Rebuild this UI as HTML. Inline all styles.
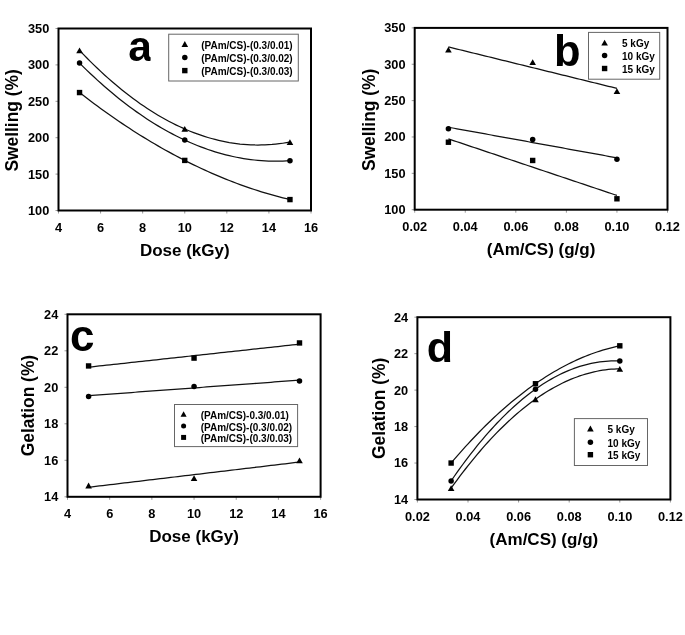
<!DOCTYPE html>
<html><head><meta charset="utf-8"><style>
html,body{margin:0;padding:0;background:#fff;}
svg{display:block;filter:grayscale(1);}
text{font-family:"Liberation Sans", sans-serif;font-weight:bold;fill:#000;}
</style></head><body>
<svg width="685" height="635" viewBox="0 0 685 635">
<line x1="58.5" y1="210.5" x2="58.5" y2="213.5" stroke="#999" stroke-width="1"/>
<text transform="translate(58.5,231.5) scale(1.04,1)" font-size="12.3" text-anchor="middle">4</text>
<line x1="100.58" y1="210.5" x2="100.58" y2="213.5" stroke="#999" stroke-width="1"/>
<text transform="translate(100.58,231.5) scale(1.04,1)" font-size="12.3" text-anchor="middle">6</text>
<line x1="142.67" y1="210.5" x2="142.67" y2="213.5" stroke="#999" stroke-width="1"/>
<text transform="translate(142.67,231.5) scale(1.04,1)" font-size="12.3" text-anchor="middle">8</text>
<line x1="184.75" y1="210.5" x2="184.75" y2="213.5" stroke="#999" stroke-width="1"/>
<text transform="translate(184.75,231.5) scale(1.04,1)" font-size="12.3" text-anchor="middle">10</text>
<line x1="226.83" y1="210.5" x2="226.83" y2="213.5" stroke="#999" stroke-width="1"/>
<text transform="translate(226.83,231.5) scale(1.04,1)" font-size="12.3" text-anchor="middle">12</text>
<line x1="268.92" y1="210.5" x2="268.92" y2="213.5" stroke="#999" stroke-width="1"/>
<text transform="translate(268.92,231.5) scale(1.04,1)" font-size="12.3" text-anchor="middle">14</text>
<line x1="311" y1="210.5" x2="311" y2="213.5" stroke="#999" stroke-width="1"/>
<text transform="translate(311,231.5) scale(1.04,1)" font-size="12.3" text-anchor="middle">16</text>
<line x1="55.5" y1="210.5" x2="58.5" y2="210.5" stroke="#999" stroke-width="1"/>
<text transform="translate(49.3,214.93) scale(1.04,1)" font-size="12.3" text-anchor="end">100</text>
<line x1="55.5" y1="174.1" x2="58.5" y2="174.1" stroke="#999" stroke-width="1"/>
<text transform="translate(49.3,178.53) scale(1.04,1)" font-size="12.3" text-anchor="end">150</text>
<line x1="55.5" y1="137.7" x2="58.5" y2="137.7" stroke="#999" stroke-width="1"/>
<text transform="translate(49.3,142.13) scale(1.04,1)" font-size="12.3" text-anchor="end">200</text>
<line x1="55.5" y1="101.3" x2="58.5" y2="101.3" stroke="#999" stroke-width="1"/>
<text transform="translate(49.3,105.73) scale(1.04,1)" font-size="12.3" text-anchor="end">250</text>
<line x1="55.5" y1="64.9" x2="58.5" y2="64.9" stroke="#999" stroke-width="1"/>
<text transform="translate(49.3,69.33) scale(1.04,1)" font-size="12.3" text-anchor="end">300</text>
<line x1="55.5" y1="28.5" x2="58.5" y2="28.5" stroke="#999" stroke-width="1"/>
<text transform="translate(49.3,32.93) scale(1.04,1)" font-size="12.3" text-anchor="end">350</text>
<rect x="58.5" y="28.5" width="252.5" height="182" fill="none" stroke="#000" stroke-width="2"/>
<text x="184.75" y="255.9" font-size="17" text-anchor="middle" >Dose (kGy)</text>
<text transform="translate(17.9,120.4) rotate(-90) scale(1,1.07)" x="0" y="0" font-size="17.4" text-anchor="middle">Swelling (%)</text>
<clipPath id="clipa"><rect x="120" y="30" width="30.599999999999994" height="40"/></clipPath>
<text x="128.3" y="61.2" font-size="42.5" text-anchor="start" clip-path="url(#clipa)">a</text>
<path d="M79.54,50.34 L83.11,54.08 L86.67,57.74 L90.24,61.33 L93.81,64.84 L97.37,68.28 L100.94,71.64 L104.51,74.93 L108.07,78.14 L111.64,81.27 L115.21,84.33 L118.77,87.32 L122.34,90.23 L125.9,93.06 L129.47,95.82 L133.04,98.51 L136.6,101.11 L140.17,103.65 L143.74,106.11 L147.3,108.49 L150.87,110.8 L154.44,113.03 L158,115.19 L161.57,117.27 L165.13,119.27 L168.7,121.21 L172.27,123.06 L175.83,124.84 L179.4,126.55 L182.97,128.18 L186.53,129.73 L190.1,131.21 L193.67,132.62 L197.23,133.94 L200.8,135.2 L204.37,136.38 L207.93,137.48 L211.5,138.51 L215.06,139.46 L218.63,140.34 L222.2,141.14 L225.76,141.86 L229.33,142.52 L232.9,143.09 L236.46,143.59 L240.03,144.02 L243.6,144.37 L247.16,144.64 L250.73,144.84 L254.29,144.97 L257.86,145.02 L261.43,144.99 L264.99,144.89 L268.56,144.71 L272.13,144.46 L275.69,144.13 L279.26,143.73 L282.83,143.25 L286.39,142.7 L289.96,142.07" fill="none" stroke="#111" stroke-width="1.25"/>
<polygon points="76.24,53.24 82.84,53.24 79.54,47.44" fill="#000"/>
<polygon points="181.45,131.86 188.05,131.86 184.75,126.06" fill="#000"/>
<polygon points="286.66,144.97 293.26,144.97 289.96,139.17" fill="#000"/>
<path d="M79.54,63.08 L83.11,66.62 L86.67,70.09 L90.24,73.49 L93.81,76.83 L97.37,80.11 L100.94,83.32 L104.51,86.47 L108.07,89.55 L111.64,92.57 L115.21,95.52 L118.77,98.41 L122.34,101.23 L125.9,103.98 L129.47,106.68 L133.04,109.3 L136.6,111.87 L140.17,114.36 L143.74,116.8 L147.3,119.16 L150.87,121.47 L154.44,123.7 L158,125.88 L161.57,127.98 L165.13,130.03 L168.7,132 L172.27,133.92 L175.83,135.77 L179.4,137.55 L182.97,139.27 L186.53,140.92 L190.1,142.51 L193.67,144.03 L197.23,145.49 L200.8,146.89 L204.37,148.21 L207.93,149.48 L211.5,150.68 L215.06,151.81 L218.63,152.88 L222.2,153.88 L225.76,154.82 L229.33,155.7 L232.9,156.51 L236.46,157.25 L240.03,157.93 L243.6,158.55 L247.16,159.1 L250.73,159.58 L254.29,160 L257.86,160.36 L261.43,160.65 L264.99,160.87 L268.56,161.03 L272.13,161.13 L275.69,161.16 L279.26,161.12 L282.83,161.03 L286.39,160.86 L289.96,160.63" fill="none" stroke="#111" stroke-width="1.25"/>
<circle cx="79.54" cy="63.08" r="2.75" fill="#000"/>
<circle cx="184.75" cy="140.1" r="2.75" fill="#000"/>
<circle cx="289.96" cy="160.63" r="2.75" fill="#000"/>
<path d="M79.54,92.56 L83.11,95.33 L86.67,98.07 L90.24,100.77 L93.81,103.44 L97.37,106.08 L100.94,108.69 L104.51,111.26 L108.07,113.8 L111.64,116.3 L115.21,118.78 L118.77,121.22 L122.34,123.62 L125.9,126 L129.47,128.34 L133.04,130.65 L136.6,132.92 L140.17,135.17 L143.74,137.38 L147.3,139.55 L150.87,141.69 L154.44,143.81 L158,145.88 L161.57,147.93 L165.13,149.94 L168.7,151.92 L172.27,153.86 L175.83,155.78 L179.4,157.66 L182.97,159.5 L186.53,161.32 L190.1,163.1 L193.67,164.85 L197.23,166.56 L200.8,168.24 L204.37,169.89 L207.93,171.51 L211.5,173.09 L215.06,174.64 L218.63,176.16 L222.2,177.64 L225.76,179.09 L229.33,180.51 L232.9,181.9 L236.46,183.25 L240.03,184.57 L243.6,185.86 L247.16,187.11 L250.73,188.33 L254.29,189.52 L257.86,190.67 L261.43,191.79 L264.99,192.88 L268.56,193.94 L272.13,194.96 L275.69,195.95 L279.26,196.91 L282.83,197.83 L286.39,198.72 L289.96,199.58" fill="none" stroke="#111" stroke-width="1.25"/>
<rect x="76.84" y="89.86" width="5.4" height="5.4" fill="#000"/>
<rect x="182.05" y="157.71" width="5.4" height="5.4" fill="#000"/>
<rect x="287.26" y="196.88" width="5.4" height="5.4" fill="#000"/>
<rect x="168.7" y="34.2" width="129.6" height="46.8" fill="#fff" stroke="#666" stroke-width="1"/>
<polygon points="181.5,46.9 188.1,46.9 184.8,41.1" fill="#000"/>
<text transform="translate(201.2,48.8) scale(1,1.0)" font-size="10">(PAm/CS)-(0.3/0.01)</text>
<circle cx="184.8" cy="57.4" r="2.75" fill="#000"/>
<text transform="translate(201.2,62.2) scale(1,1.0)" font-size="10">(PAm/CS)-(0.3/0.02)</text>
<rect x="182.1" y="67.9" width="5.4" height="5.4" fill="#000"/>
<text transform="translate(201.2,75.4) scale(1,1.0)" font-size="10">(PAm/CS)-(0.3/0.03)</text>
<line x1="414.7" y1="209.7" x2="414.7" y2="212.7" stroke="#999" stroke-width="1"/>
<text transform="translate(414.7,230.7) scale(1.04,1)" font-size="12.3" text-anchor="middle">0.02</text>
<line x1="465.26" y1="209.7" x2="465.26" y2="212.7" stroke="#999" stroke-width="1"/>
<text transform="translate(465.26,230.7) scale(1.04,1)" font-size="12.3" text-anchor="middle">0.04</text>
<line x1="515.82" y1="209.7" x2="515.82" y2="212.7" stroke="#999" stroke-width="1"/>
<text transform="translate(515.82,230.7) scale(1.04,1)" font-size="12.3" text-anchor="middle">0.06</text>
<line x1="566.38" y1="209.7" x2="566.38" y2="212.7" stroke="#999" stroke-width="1"/>
<text transform="translate(566.38,230.7) scale(1.04,1)" font-size="12.3" text-anchor="middle">0.08</text>
<line x1="616.94" y1="209.7" x2="616.94" y2="212.7" stroke="#999" stroke-width="1"/>
<text transform="translate(616.94,230.7) scale(1.04,1)" font-size="12.3" text-anchor="middle">0.10</text>
<line x1="667.5" y1="209.7" x2="667.5" y2="212.7" stroke="#999" stroke-width="1"/>
<text transform="translate(667.5,230.7) scale(1.04,1)" font-size="12.3" text-anchor="middle">0.12</text>
<line x1="411.7" y1="209.7" x2="414.7" y2="209.7" stroke="#999" stroke-width="1"/>
<text transform="translate(405.5,214.13) scale(1.04,1)" font-size="12.3" text-anchor="end">100</text>
<line x1="411.7" y1="173.34" x2="414.7" y2="173.34" stroke="#999" stroke-width="1"/>
<text transform="translate(405.5,177.77) scale(1.04,1)" font-size="12.3" text-anchor="end">150</text>
<line x1="411.7" y1="136.98" x2="414.7" y2="136.98" stroke="#999" stroke-width="1"/>
<text transform="translate(405.5,141.41) scale(1.04,1)" font-size="12.3" text-anchor="end">200</text>
<line x1="411.7" y1="100.62" x2="414.7" y2="100.62" stroke="#999" stroke-width="1"/>
<text transform="translate(405.5,105.05) scale(1.04,1)" font-size="12.3" text-anchor="end">250</text>
<line x1="411.7" y1="64.26" x2="414.7" y2="64.26" stroke="#999" stroke-width="1"/>
<text transform="translate(405.5,68.69) scale(1.04,1)" font-size="12.3" text-anchor="end">300</text>
<line x1="411.7" y1="27.9" x2="414.7" y2="27.9" stroke="#999" stroke-width="1"/>
<text transform="translate(405.5,32.33) scale(1.04,1)" font-size="12.3" text-anchor="end">350</text>
<rect x="414.7" y="27.9" width="252.8" height="181.8" fill="none" stroke="#000" stroke-width="2"/>
<text x="541.1" y="255.1" font-size="17" text-anchor="middle" >(Am/CS) (g/g)</text>
<text transform="translate(375.3,119.9) rotate(-90) scale(1,1.07)" x="0" y="0" font-size="17.4" text-anchor="middle">Swelling (%)</text>
<text x="554" y="66.2" font-size="43.5" text-anchor="start" >b</text>
<path d="M448.41,46.93 L451.26,47.63 L454.12,48.33 L456.98,49.04 L459.83,49.74 L462.69,50.44 L465.55,51.14 L468.4,51.85 L471.26,52.55 L474.12,53.25 L476.97,53.95 L479.83,54.66 L482.68,55.36 L485.54,56.06 L488.4,56.76 L491.25,57.47 L494.11,58.17 L496.97,58.87 L499.82,59.57 L502.68,60.28 L505.54,60.98 L508.39,61.68 L511.25,62.38 L514.11,63.09 L516.96,63.79 L519.82,64.49 L522.68,65.19 L525.53,65.9 L528.39,66.6 L531.25,67.3 L534.1,68 L536.96,68.71 L539.81,69.41 L542.67,70.11 L545.53,70.82 L548.38,71.52 L551.24,72.22 L554.1,72.92 L556.95,73.63 L559.81,74.33 L562.67,75.03 L565.52,75.73 L568.38,76.44 L571.24,77.14 L574.09,77.84 L576.95,78.54 L579.81,79.25 L582.66,79.95 L585.52,80.65 L588.38,81.35 L591.23,82.06 L594.09,82.76 L596.94,83.46 L599.8,84.16 L602.66,84.87 L605.51,85.57 L608.37,86.27 L611.23,86.97 L614.08,87.68 L616.94,88.38" fill="none" stroke="#111" stroke-width="1.25"/>
<polygon points="445.11,52.62 451.71,52.62 448.41,46.82" fill="#000"/>
<polygon points="529.37,64.98 535.97,64.98 532.67,59.18" fill="#000"/>
<polygon points="613.64,94.07 620.24,94.07 616.94,88.27" fill="#000"/>
<path d="M448.41,127.22 L451.26,127.74 L454.12,128.26 L456.98,128.78 L459.83,129.3 L462.69,129.82 L465.55,130.34 L468.4,130.86 L471.26,131.37 L474.12,131.89 L476.97,132.41 L479.83,132.93 L482.68,133.45 L485.54,133.97 L488.4,134.49 L491.25,135.01 L494.11,135.53 L496.97,136.04 L499.82,136.56 L502.68,137.08 L505.54,137.6 L508.39,138.12 L511.25,138.64 L514.11,139.16 L516.96,139.68 L519.82,140.2 L522.68,140.71 L525.53,141.23 L528.39,141.75 L531.25,142.27 L534.1,142.79 L536.96,143.31 L539.81,143.83 L542.67,144.35 L545.53,144.87 L548.38,145.38 L551.24,145.9 L554.1,146.42 L556.95,146.94 L559.81,147.46 L562.67,147.98 L565.52,148.5 L568.38,149.02 L571.24,149.54 L574.09,150.06 L576.95,150.57 L579.81,151.09 L582.66,151.61 L585.52,152.13 L588.38,152.65 L591.23,153.17 L594.09,153.69 L596.94,154.21 L599.8,154.73 L602.66,155.24 L605.51,155.76 L608.37,156.28 L611.23,156.8 L614.08,157.32 L616.94,157.84" fill="none" stroke="#111" stroke-width="1.25"/>
<circle cx="448.41" cy="128.69" r="2.75" fill="#000"/>
<circle cx="532.67" cy="139.6" r="2.75" fill="#000"/>
<circle cx="616.94" cy="159.31" r="2.75" fill="#000"/>
<path d="M448.41,138.87 L451.26,139.83 L454.12,140.79 L456.98,141.75 L459.83,142.71 L462.69,143.67 L465.55,144.62 L468.4,145.58 L471.26,146.54 L474.12,147.5 L476.97,148.46 L479.83,149.42 L482.68,150.38 L485.54,151.34 L488.4,152.3 L491.25,153.25 L494.11,154.21 L496.97,155.17 L499.82,156.13 L502.68,157.09 L505.54,158.05 L508.39,159.01 L511.25,159.97 L514.11,160.93 L516.96,161.88 L519.82,162.84 L522.68,163.8 L525.53,164.76 L528.39,165.72 L531.25,166.68 L534.1,167.64 L536.96,168.6 L539.81,169.56 L542.67,170.52 L545.53,171.47 L548.38,172.43 L551.24,173.39 L554.1,174.35 L556.95,175.31 L559.81,176.27 L562.67,177.23 L565.52,178.19 L568.38,179.15 L571.24,180.1 L574.09,181.06 L576.95,182.02 L579.81,182.98 L582.66,183.94 L585.52,184.9 L588.38,185.86 L591.23,186.82 L594.09,187.78 L596.94,188.73 L599.8,189.69 L602.66,190.65 L605.51,191.61 L608.37,192.57 L611.23,193.53 L614.08,194.49 L616.94,195.45" fill="none" stroke="#111" stroke-width="1.25"/>
<rect x="445.71" y="139.52" width="5.4" height="5.4" fill="#000"/>
<rect x="529.97" y="157.77" width="5.4" height="5.4" fill="#000"/>
<rect x="614.24" y="196.09" width="5.4" height="5.4" fill="#000"/>
<rect x="588.5" y="32.4" width="71.2" height="46.8" fill="#fff" stroke="#666" stroke-width="1"/>
<polygon points="601.3,45.5 607.9,45.5 604.6,39.7" fill="#000"/>
<text transform="translate(622,46.9) scale(1,1.0)" font-size="10">5 kGy</text>
<circle cx="604.6" cy="55.6" r="2.75" fill="#000"/>
<text transform="translate(622,59.9) scale(1,1.0)" font-size="10">10 kGy</text>
<rect x="601.9" y="65.8" width="5.4" height="5.4" fill="#000"/>
<text transform="translate(622,72.8) scale(1,1.0)" font-size="10">15 kGy</text>
<line x1="67.5" y1="496.8" x2="67.5" y2="499.8" stroke="#999" stroke-width="1"/>
<text transform="translate(67.5,517.8) scale(1.04,1)" font-size="12.3" text-anchor="middle">4</text>
<line x1="109.68" y1="496.8" x2="109.68" y2="499.8" stroke="#999" stroke-width="1"/>
<text transform="translate(109.68,517.8) scale(1.04,1)" font-size="12.3" text-anchor="middle">6</text>
<line x1="151.87" y1="496.8" x2="151.87" y2="499.8" stroke="#999" stroke-width="1"/>
<text transform="translate(151.87,517.8) scale(1.04,1)" font-size="12.3" text-anchor="middle">8</text>
<line x1="194.05" y1="496.8" x2="194.05" y2="499.8" stroke="#999" stroke-width="1"/>
<text transform="translate(194.05,517.8) scale(1.04,1)" font-size="12.3" text-anchor="middle">10</text>
<line x1="236.23" y1="496.8" x2="236.23" y2="499.8" stroke="#999" stroke-width="1"/>
<text transform="translate(236.23,517.8) scale(1.04,1)" font-size="12.3" text-anchor="middle">12</text>
<line x1="278.42" y1="496.8" x2="278.42" y2="499.8" stroke="#999" stroke-width="1"/>
<text transform="translate(278.42,517.8) scale(1.04,1)" font-size="12.3" text-anchor="middle">14</text>
<line x1="320.6" y1="496.8" x2="320.6" y2="499.8" stroke="#999" stroke-width="1"/>
<text transform="translate(320.6,517.8) scale(1.04,1)" font-size="12.3" text-anchor="middle">16</text>
<line x1="64.5" y1="496.8" x2="67.5" y2="496.8" stroke="#999" stroke-width="1"/>
<text transform="translate(58.3,501.23) scale(1.04,1)" font-size="12.3" text-anchor="end">14</text>
<line x1="64.5" y1="460.3" x2="67.5" y2="460.3" stroke="#999" stroke-width="1"/>
<text transform="translate(58.3,464.73) scale(1.04,1)" font-size="12.3" text-anchor="end">16</text>
<line x1="64.5" y1="423.8" x2="67.5" y2="423.8" stroke="#999" stroke-width="1"/>
<text transform="translate(58.3,428.23) scale(1.04,1)" font-size="12.3" text-anchor="end">18</text>
<line x1="64.5" y1="387.3" x2="67.5" y2="387.3" stroke="#999" stroke-width="1"/>
<text transform="translate(58.3,391.73) scale(1.04,1)" font-size="12.3" text-anchor="end">20</text>
<line x1="64.5" y1="350.8" x2="67.5" y2="350.8" stroke="#999" stroke-width="1"/>
<text transform="translate(58.3,355.23) scale(1.04,1)" font-size="12.3" text-anchor="end">22</text>
<line x1="64.5" y1="314.3" x2="67.5" y2="314.3" stroke="#999" stroke-width="1"/>
<text transform="translate(58.3,318.73) scale(1.04,1)" font-size="12.3" text-anchor="end">24</text>
<rect x="67.5" y="314.3" width="253.1" height="182.5" fill="none" stroke="#000" stroke-width="2"/>
<text x="194.05" y="542.1" font-size="17" text-anchor="middle" >Dose (kGy)</text>
<text transform="translate(34,405.55) rotate(-90) scale(1,1.07)" x="0" y="0" font-size="17.4" text-anchor="middle">Gelation (%)</text>
<text x="70" y="351.2" font-size="44" text-anchor="start" >c</text>
<path d="M88.59,487.25 L92.17,486.82 L95.74,486.4 L99.32,485.97 L102.89,485.54 L106.47,485.11 L110.04,484.69 L113.62,484.26 L117.19,483.83 L120.77,483.41 L124.34,482.98 L127.92,482.55 L131.49,482.13 L135.06,481.7 L138.64,481.27 L142.21,480.85 L145.79,480.42 L149.36,479.99 L152.94,479.57 L156.51,479.14 L160.09,478.71 L163.66,478.29 L167.24,477.86 L170.81,477.43 L174.39,477 L177.96,476.58 L181.54,476.15 L185.11,475.72 L188.69,475.3 L192.26,474.87 L195.84,474.44 L199.41,474.02 L202.99,473.59 L206.56,473.16 L210.14,472.74 L213.71,472.31 L217.29,471.88 L220.86,471.46 L224.44,471.03 L228.01,470.6 L231.59,470.17 L235.16,469.75 L238.74,469.32 L242.31,468.89 L245.89,468.47 L249.46,468.04 L253.04,467.61 L256.61,467.19 L260.18,466.76 L263.76,466.33 L267.33,465.91 L270.91,465.48 L274.48,465.05 L278.06,464.63 L281.63,464.2 L285.21,463.77 L288.78,463.34 L292.36,462.92 L295.93,462.49 L299.51,462.06" fill="none" stroke="#111" stroke-width="1.25"/>
<polygon points="85.29,488.38 91.89,488.38 88.59,482.59" fill="#000"/>
<polygon points="190.75,481.08 197.35,481.08 194.05,475.29" fill="#000"/>
<polygon points="296.21,463.2 302.81,463.2 299.51,457.4" fill="#000"/>
<path d="M88.59,395.66 L92.17,395.4 L95.74,395.14 L99.32,394.88 L102.89,394.61 L106.47,394.35 L110.04,394.09 L113.62,393.82 L117.19,393.56 L120.77,393.3 L124.34,393.04 L127.92,392.77 L131.49,392.51 L135.06,392.25 L138.64,391.98 L142.21,391.72 L145.79,391.46 L149.36,391.19 L152.94,390.93 L156.51,390.67 L160.09,390.41 L163.66,390.14 L167.24,389.88 L170.81,389.62 L174.39,389.35 L177.96,389.09 L181.54,388.83 L185.11,388.57 L188.69,388.3 L192.26,388.04 L195.84,387.78 L199.41,387.51 L202.99,387.25 L206.56,386.99 L210.14,386.73 L213.71,386.46 L217.29,386.2 L220.86,385.94 L224.44,385.67 L228.01,385.41 L231.59,385.15 L235.16,384.88 L238.74,384.62 L242.31,384.36 L245.89,384.1 L249.46,383.83 L253.04,383.57 L256.61,383.31 L260.18,383.04 L263.76,382.78 L267.33,382.52 L270.91,382.26 L274.48,381.99 L278.06,381.73 L281.63,381.47 L285.21,381.2 L288.78,380.94 L292.36,380.68 L295.93,380.42 L299.51,380.15" fill="none" stroke="#111" stroke-width="1.25"/>
<circle cx="88.59" cy="396.43" r="2.75" fill="#000"/>
<circle cx="194.05" cy="386.39" r="2.75" fill="#000"/>
<circle cx="299.51" cy="380.91" r="2.75" fill="#000"/>
<path d="M88.59,367.16 L92.17,366.77 L95.74,366.38 L99.32,365.99 L102.89,365.61 L106.47,365.22 L110.04,364.83 L113.62,364.44 L117.19,364.05 L120.77,363.66 L124.34,363.27 L127.92,362.88 L131.49,362.49 L135.06,362.1 L138.64,361.71 L142.21,361.32 L145.79,360.93 L149.36,360.54 L152.94,360.15 L156.51,359.76 L160.09,359.37 L163.66,358.98 L167.24,358.59 L170.81,358.2 L174.39,357.81 L177.96,357.42 L181.54,357.03 L185.11,356.64 L188.69,356.25 L192.26,355.86 L195.84,355.47 L199.41,355.08 L202.99,354.69 L206.56,354.3 L210.14,353.91 L213.71,353.52 L217.29,353.13 L220.86,352.74 L224.44,352.35 L228.01,351.96 L231.59,351.57 L235.16,351.18 L238.74,350.79 L242.31,350.41 L245.89,350.02 L249.46,349.63 L253.04,349.24 L256.61,348.85 L260.18,348.46 L263.76,348.07 L267.33,347.68 L270.91,347.29 L274.48,346.9 L278.06,346.51 L281.63,346.12 L285.21,345.73 L288.78,345.34 L292.36,344.95 L295.93,344.56 L299.51,344.17" fill="none" stroke="#111" stroke-width="1.25"/>
<rect x="85.89" y="363.25" width="5.4" height="5.4" fill="#000"/>
<rect x="191.35" y="355.4" width="5.4" height="5.4" fill="#000"/>
<rect x="296.81" y="340.25" width="5.4" height="5.4" fill="#000"/>
<rect x="174.5" y="404.5" width="123.1" height="42.1" fill="#fff" stroke="#666" stroke-width="1"/>
<polygon points="180.56,416.67 186.64,416.67 183.6,411.33" fill="#000"/>
<text transform="translate(200.7,418.6) scale(1,1.0)" font-size="10">(PAm/CS)-0.3/0.01)</text>
<circle cx="183.6" cy="426" r="2.53" fill="#000"/>
<text transform="translate(200.7,430.6) scale(1,1.0)" font-size="10">(PAm/CS)-(0.3/0.02)</text>
<rect x="181.12" y="434.92" width="4.97" height="4.97" fill="#000"/>
<text transform="translate(200.7,442) scale(1,1.0)" font-size="10">(PAm/CS)-(0.3/0.03)</text>
<line x1="417.4" y1="499.5" x2="417.4" y2="502.5" stroke="#999" stroke-width="1"/>
<text transform="translate(417.4,520.5) scale(1.04,1)" font-size="12.3" text-anchor="middle">0.02</text>
<line x1="468" y1="499.5" x2="468" y2="502.5" stroke="#999" stroke-width="1"/>
<text transform="translate(468,520.5) scale(1.04,1)" font-size="12.3" text-anchor="middle">0.04</text>
<line x1="518.6" y1="499.5" x2="518.6" y2="502.5" stroke="#999" stroke-width="1"/>
<text transform="translate(518.6,520.5) scale(1.04,1)" font-size="12.3" text-anchor="middle">0.06</text>
<line x1="569.2" y1="499.5" x2="569.2" y2="502.5" stroke="#999" stroke-width="1"/>
<text transform="translate(569.2,520.5) scale(1.04,1)" font-size="12.3" text-anchor="middle">0.08</text>
<line x1="619.8" y1="499.5" x2="619.8" y2="502.5" stroke="#999" stroke-width="1"/>
<text transform="translate(619.8,520.5) scale(1.04,1)" font-size="12.3" text-anchor="middle">0.10</text>
<line x1="670.4" y1="499.5" x2="670.4" y2="502.5" stroke="#999" stroke-width="1"/>
<text transform="translate(670.4,520.5) scale(1.04,1)" font-size="12.3" text-anchor="middle">0.12</text>
<line x1="414.4" y1="499.5" x2="417.4" y2="499.5" stroke="#999" stroke-width="1"/>
<text transform="translate(408.2,503.93) scale(1.04,1)" font-size="12.3" text-anchor="end">14</text>
<line x1="414.4" y1="463.04" x2="417.4" y2="463.04" stroke="#999" stroke-width="1"/>
<text transform="translate(408.2,467.47) scale(1.04,1)" font-size="12.3" text-anchor="end">16</text>
<line x1="414.4" y1="426.58" x2="417.4" y2="426.58" stroke="#999" stroke-width="1"/>
<text transform="translate(408.2,431.01) scale(1.04,1)" font-size="12.3" text-anchor="end">18</text>
<line x1="414.4" y1="390.12" x2="417.4" y2="390.12" stroke="#999" stroke-width="1"/>
<text transform="translate(408.2,394.55) scale(1.04,1)" font-size="12.3" text-anchor="end">20</text>
<line x1="414.4" y1="353.66" x2="417.4" y2="353.66" stroke="#999" stroke-width="1"/>
<text transform="translate(408.2,358.09) scale(1.04,1)" font-size="12.3" text-anchor="end">22</text>
<line x1="414.4" y1="317.2" x2="417.4" y2="317.2" stroke="#999" stroke-width="1"/>
<text transform="translate(408.2,321.63) scale(1.04,1)" font-size="12.3" text-anchor="end">24</text>
<rect x="417.4" y="317.2" width="253" height="182.3" fill="none" stroke="#000" stroke-width="2"/>
<text x="543.9" y="544.7" font-size="17" text-anchor="middle" >(Am/CS) (g/g)</text>
<text transform="translate(384.6,408.35) rotate(-90) scale(1,1.07)" x="0" y="0" font-size="17.4" text-anchor="middle">Gelation (%)</text>
<text x="426.8" y="361.6" font-size="43" text-anchor="start" >d</text>
<path d="M451.13,488.2 L453.99,484.22 L456.85,480.32 L459.71,476.48 L462.57,472.71 L465.43,469 L468.29,465.36 L471.14,461.79 L474,458.29 L476.86,454.85 L479.72,451.48 L482.58,448.18 L485.44,444.95 L488.3,441.78 L491.16,438.68 L494.01,435.65 L496.87,432.68 L499.73,429.79 L502.59,426.96 L505.45,424.19 L508.31,421.5 L511.17,418.87 L514.03,416.31 L516.88,413.81 L519.74,411.38 L522.6,409.02 L525.46,406.73 L528.32,404.5 L531.18,402.35 L534.04,400.26 L536.9,398.23 L539.75,396.27 L542.61,394.39 L545.47,392.56 L548.33,390.81 L551.19,389.12 L554.05,387.5 L556.91,385.95 L559.77,384.46 L562.62,383.04 L565.48,381.69 L568.34,380.41 L571.2,379.19 L574.06,378.04 L576.92,376.96 L579.78,375.94 L582.64,375 L585.49,374.11 L588.35,373.3 L591.21,372.55 L594.07,371.88 L596.93,371.26 L599.79,370.72 L602.65,370.24 L605.51,369.83 L608.36,369.49 L611.22,369.21 L614.08,369.01 L616.94,368.86 L619.8,368.79" fill="none" stroke="#111" stroke-width="1.25"/>
<polygon points="447.83,491.1 454.43,491.1 451.13,485.3" fill="#000"/>
<polygon points="532.17,402.13 538.77,402.13 535.47,396.34" fill="#000"/>
<polygon points="616.5,371.69 623.1,371.69 619.8,365.89" fill="#000"/>
<path d="M451.13,480.91 L453.99,476.76 L456.85,472.68 L459.71,468.68 L462.57,464.75 L465.43,460.9 L468.29,457.12 L471.14,453.41 L474,449.77 L476.86,446.21 L479.72,442.71 L482.58,439.3 L485.44,435.95 L488.3,432.68 L491.16,429.48 L494.01,426.35 L496.87,423.3 L499.73,420.32 L502.59,417.41 L505.45,414.57 L508.31,411.81 L511.17,409.12 L514.03,406.51 L516.88,403.96 L519.74,401.49 L522.6,399.1 L525.46,396.77 L528.32,394.52 L531.18,392.34 L534.04,390.23 L536.9,388.2 L539.75,386.24 L542.61,384.35 L545.47,382.54 L548.33,380.8 L551.19,379.13 L554.05,377.53 L556.91,376.01 L559.77,374.56 L562.62,373.18 L565.48,371.88 L568.34,370.65 L571.2,369.49 L574.06,368.4 L576.92,367.39 L579.78,366.45 L582.64,365.59 L585.49,364.79 L588.35,364.07 L591.21,363.42 L594.07,362.85 L596.93,362.35 L599.79,361.92 L602.65,361.56 L605.51,361.28 L608.36,361.07 L611.22,360.93 L614.08,360.86 L616.94,360.87 L619.8,360.95" fill="none" stroke="#111" stroke-width="1.25"/>
<circle cx="451.13" cy="480.91" r="2.75" fill="#000"/>
<circle cx="535.47" cy="389.21" r="2.75" fill="#000"/>
<circle cx="619.8" cy="360.95" r="2.75" fill="#000"/>
<path d="M451.13,463.04 L453.99,459.67 L456.85,456.36 L459.71,453.09 L462.57,449.86 L465.43,446.69 L468.29,443.56 L471.14,440.48 L474,437.45 L476.86,434.46 L479.72,431.52 L482.58,428.63 L485.44,425.79 L488.3,422.99 L491.16,420.25 L494.01,417.55 L496.87,414.89 L499.73,412.29 L502.59,409.73 L505.45,407.22 L508.31,404.76 L511.17,402.34 L514.03,399.98 L516.88,397.66 L519.74,395.39 L522.6,393.16 L525.46,390.98 L528.32,388.86 L531.18,386.77 L534.04,384.74 L536.9,382.75 L539.75,380.81 L542.61,378.92 L545.47,377.08 L548.33,375.28 L551.19,373.53 L554.05,371.83 L556.91,370.18 L559.77,368.57 L562.62,367.01 L565.48,365.5 L568.34,364.04 L571.2,362.62 L574.06,361.25 L576.92,359.93 L579.78,358.66 L582.64,357.43 L585.49,356.25 L588.35,355.12 L591.21,354.04 L594.07,353 L596.93,352.01 L599.79,351.07 L602.65,350.18 L605.51,349.34 L608.36,348.54 L611.22,347.79 L614.08,347.08 L616.94,346.43 L619.8,345.82" fill="none" stroke="#111" stroke-width="1.25"/>
<rect x="448.43" y="460.34" width="5.4" height="5.4" fill="#000"/>
<rect x="532.77" y="381.04" width="5.4" height="5.4" fill="#000"/>
<rect x="617.1" y="343.12" width="5.4" height="5.4" fill="#000"/>
<rect x="574.4" y="418.6" width="73.1" height="46.9" fill="#fff" stroke="#666" stroke-width="1"/>
<polygon points="587.1,431.4 593.7,431.4 590.4,425.6" fill="#000"/>
<text transform="translate(607.5,432.8) scale(1,1.0)" font-size="10">5 kGy</text>
<circle cx="590.4" cy="442.2" r="2.75" fill="#000"/>
<text transform="translate(607.5,446.5) scale(1,1.0)" font-size="10">10 kGy</text>
<rect x="587.7" y="452" width="5.4" height="5.4" fill="#000"/>
<text transform="translate(607.5,459) scale(1,1.0)" font-size="10">15 kGy</text>
</svg></body></html>
